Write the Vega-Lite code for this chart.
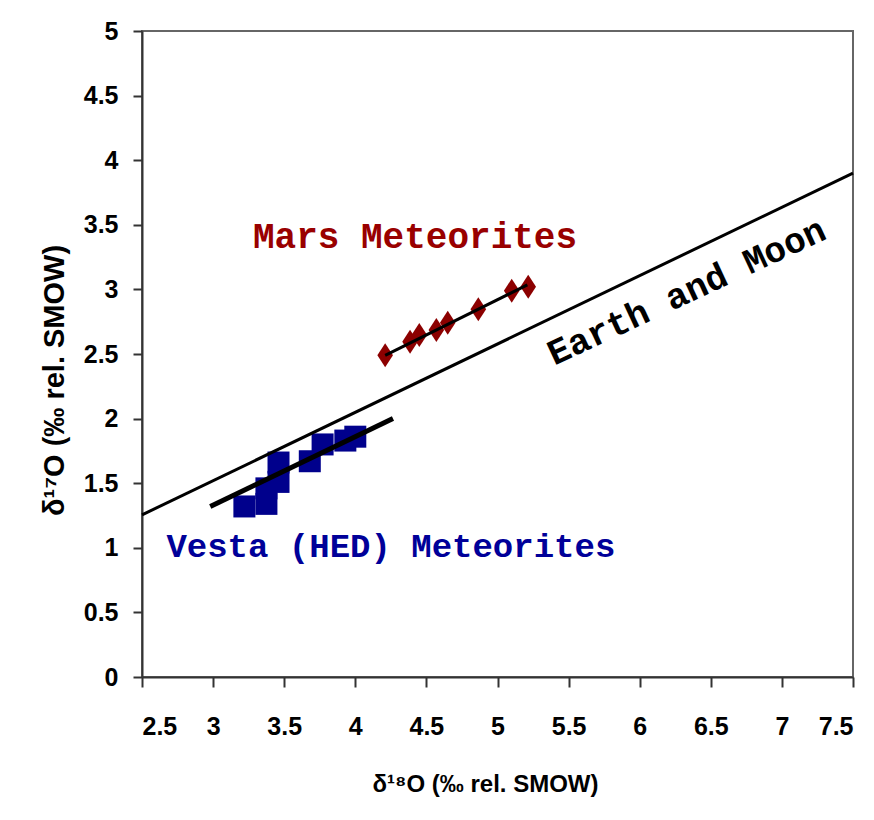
{
  "$schema": "https://vega.github.io/schema/vega-lite/v6.json",
  "width": 711,
  "height": 646,
  "autosize": {"type": "none"},
  "padding": {"left": 142, "top": 31, "right": 21, "bottom": 143},
  "background": "white",
  "config": {
    "view": {"stroke": "#666", "strokeWidth": 2},
    "axis": {"grid": false}
  },
  "datasets": {
    "vesta": [
      {"d18O": 3.22, "d17O": 1.32},
      {"d18O": 3.375, "d17O": 1.34},
      {"d18O": 3.375, "d17O": 1.46},
      {"d18O": 3.46, "d17O": 1.51},
      {"d18O": 3.46, "d17O": 1.66},
      {"d18O": 3.68, "d17O": 1.67},
      {"d18O": 3.77, "d17O": 1.8},
      {"d18O": 3.93, "d17O": 1.83},
      {"d18O": 4.0, "d17O": 1.86}
    ],
    "mars": [
      {"d18O": 4.21, "d17O": 2.49},
      {"d18O": 4.385, "d17O": 2.595},
      {"d18O": 4.45, "d17O": 2.647},
      {"d18O": 4.57, "d17O": 2.686},
      {"d18O": 4.65, "d17O": 2.742},
      {"d18O": 4.865, "d17O": 2.846},
      {"d18O": 5.1, "d17O": 2.99},
      {"d18O": 5.216, "d17O": 3.02}
    ],
    "lines": [
      {"line": "Earth and Moon", "d18O": 2.5, "d17O": 1.255},
      {"line": "Earth and Moon", "d18O": 7.5, "d17O": 3.9},
      {"line": "Vesta", "d18O": 2.98, "d17O": 1.32},
      {"line": "Vesta", "d18O": 4.265, "d17O": 2.0},
      {"line": "Mars", "d18O": 4.21, "d17O": 2.49},
      {"line": "Mars", "d18O": 5.21, "d17O": 3.035}
    ],
    "labels": [
      {"name": "Mars", "text": "Mars Meteorites", "d18O": 4.42, "d17O": 3.32},
      {"name": "Vesta", "text": "Vesta (HED) Meteorites", "d18O": 4.25, "d17O": 0.93},
      {"name": "Earth", "text": "Earth and Moon", "d18O": 6.33, "d17O": 2.98}
    ]
  },
  "encoding": {
    "x": {
      "field": "d18O",
      "type": "quantitative",
      "scale": {"domain": [2.5, 7.5], "nice": false, "zero": false},
      "axis": {
        "values": [2.5, 3, 3.5, 4, 4.5, 5, 5.5, 6, 6.5, 7, 7.5],
        "format": "~g",
        "labelFont": "Liberation Sans",
        "labelFontWeight": "bold",
        "labelFontSize": 25,
        "labelColor": "black",
        "labelPadding": 27,
        "tickSize": 10,
        "tickWidth": 2,
        "tickColor": "#333",
        "domainColor": "#333",
        "domainWidth": 2,
        "title": "δ¹⁸O (‰ rel. SMOW)",
        "titleFont": "Liberation Sans",
        "titleFontWeight": "bold",
        "titleFontSize": 24,
        "titleColor": "black",
        "titlePadding": 33,
        "titleX": 343
      }
    },
    "y": {
      "field": "d17O",
      "type": "quantitative",
      "scale": {"domain": [0, 5], "nice": false, "zero": false},
      "axis": {
        "values": [0, 0.5, 1, 1.5, 2, 2.5, 3, 3.5, 4, 4.5, 5],
        "format": "~g",
        "labelFont": "Liberation Sans",
        "labelFontWeight": "bold",
        "labelFontSize": 25,
        "labelColor": "black",
        "labelPadding": 15,
        "tickSize": 9,
        "tickWidth": 2,
        "tickColor": "#333",
        "domainColor": "#333",
        "domainWidth": 2,
        "title": "δ¹⁷O (‰ rel. SMOW)",
        "titleFont": "Liberation Sans",
        "titleFontWeight": "bold",
        "titleFontSize": 29,
        "titleColor": "black",
        "titlePadding": 14,
        "titleY": 349
      }
    }
  },
  "layer": [
    {
      "data": {"name": "vesta"},
      "mark": {"type": "point", "shape": "square", "filled": true, "size": 484, "color": "#00008c", "opacity": 1}
    },
    {
      "data": {"name": "mars"},
      "mark": {"type": "point", "shape": "M-0.65,0L0,-1L0.65,0L0,1Z", "filled": true, "size": 576, "color": "#8c0000", "opacity": 1}
    },
    {
      "data": {"name": "lines"},
      "transform": [{"filter": "datum.line === 'Earth and Moon'"}],
      "mark": {"type": "line", "color": "black", "strokeWidth": 3}
    },
    {
      "data": {"name": "lines"},
      "transform": [{"filter": "datum.line === 'Vesta'"}],
      "mark": {"type": "line", "color": "black", "strokeWidth": 5}
    },
    {
      "data": {"name": "lines"},
      "transform": [{"filter": "datum.line === 'Mars'"}],
      "mark": {"type": "line", "color": "black", "strokeWidth": 3}
    },
    {
      "data": {"name": "labels"},
      "transform": [{"filter": "datum.name === 'Mars'"}],
      "mark": {"type": "text", "font": "Liberation Mono", "fontWeight": "bold", "fontSize": 36, "color": "#990000", "align": "center", "baseline": "alphabetic"},
      "encoding": {"text": {"field": "text"}}
    },
    {
      "data": {"name": "labels"},
      "transform": [{"filter": "datum.name === 'Vesta'"}],
      "mark": {"type": "text", "font": "Liberation Mono", "fontWeight": "bold", "fontSize": 34, "color": "#000099", "align": "center", "baseline": "alphabetic"},
      "encoding": {"text": {"field": "text"}}
    },
    {
      "data": {"name": "labels"},
      "transform": [{"filter": "datum.name === 'Earth'"}],
      "mark": {"type": "text", "font": "Liberation Mono", "fontWeight": "bold", "fontSize": 36, "color": "black", "align": "center", "baseline": "middle", "angle": -25},
      "encoding": {"text": {"field": "text"}}
    }
  ]
}
